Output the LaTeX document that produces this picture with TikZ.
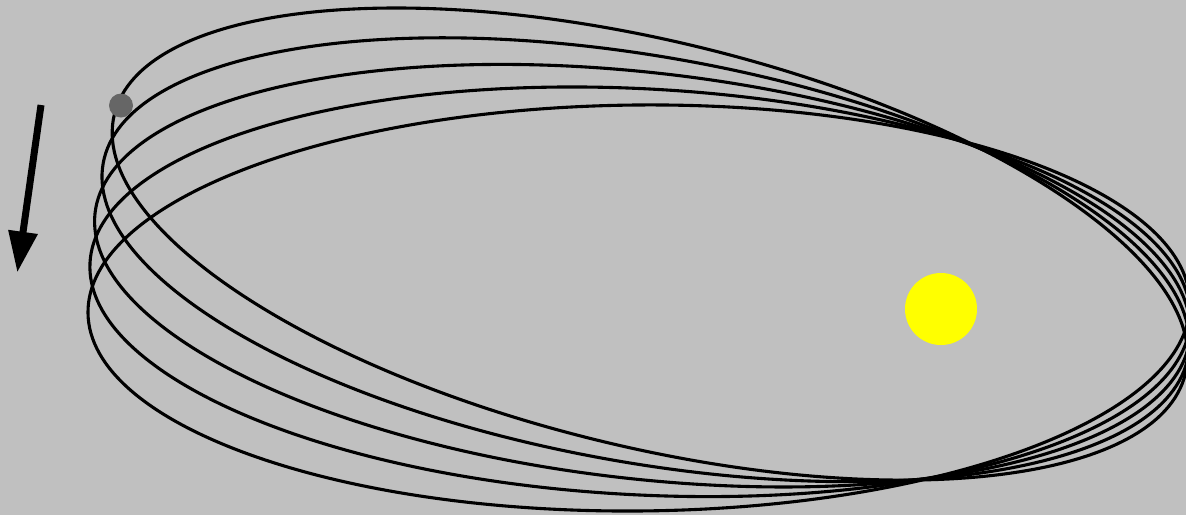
\documentclass[tikz,border=0pt]{standalone}
\usetikzlibrary{arrows.meta}
\definecolor{bggray}{HTML}{C0C0C0}
\definecolor{planetgray}{HTML}{666666}
\definecolor{sunyellow}{RGB}{255,255,0}
\begin{document}
\begin{tikzpicture}[x=1pt,y=-1pt,
  orbit/.style={draw=black, line width=3.1pt},
  body/.style={circle, inner sep=0pt, draw=none}]
\useasboundingbox (0,0) rectangle (1186,515);
\fill[bggray] (0,0) rectangle (1186,515);
\begin{scope}
\clip (0,0) rectangle (1186,515);
\coordinate (o1) at (649.88,244.05);
\coordinate (o2) at (645.69,259.75);
\coordinate (o3) at (642.47,275.69);
\coordinate (o4) at (640.24,291.79);
\coordinate (o5) at (639.00,308.00);
\draw[orbit, rotate around={-13.6:(o1)}] (o1) ellipse [x radius=551pt, y radius=203pt];
\draw[orbit, rotate around={-10.075:(o2)}] (o2) ellipse [x radius=551pt, y radius=203pt];
\draw[orbit, rotate around={-6.55:(o3)}] (o3) ellipse [x radius=551pt, y radius=203pt];
\draw[orbit, rotate around={-3.025:(o4)}] (o4) ellipse [x radius=551pt, y radius=203pt];
\draw[orbit, rotate around={0.5:(o5)}] (o5) ellipse [x radius=551pt, y radius=203pt];
\end{scope}
\node[body, fill=sunyellow, minimum size=72pt] (sun) at (941,309) {};
\node[body, fill=planetgray, minimum size=24pt] (planet) at (121,105.5) {};
\coordinate (arrowtail) at (41,105);
\coordinate (arrowtip) at (17.3,272.5);
\draw[line width=7pt, -{Triangle[length=41pt,width=28pt]}] (arrowtail) -- (arrowtip);
\end{tikzpicture}
\end{document}
